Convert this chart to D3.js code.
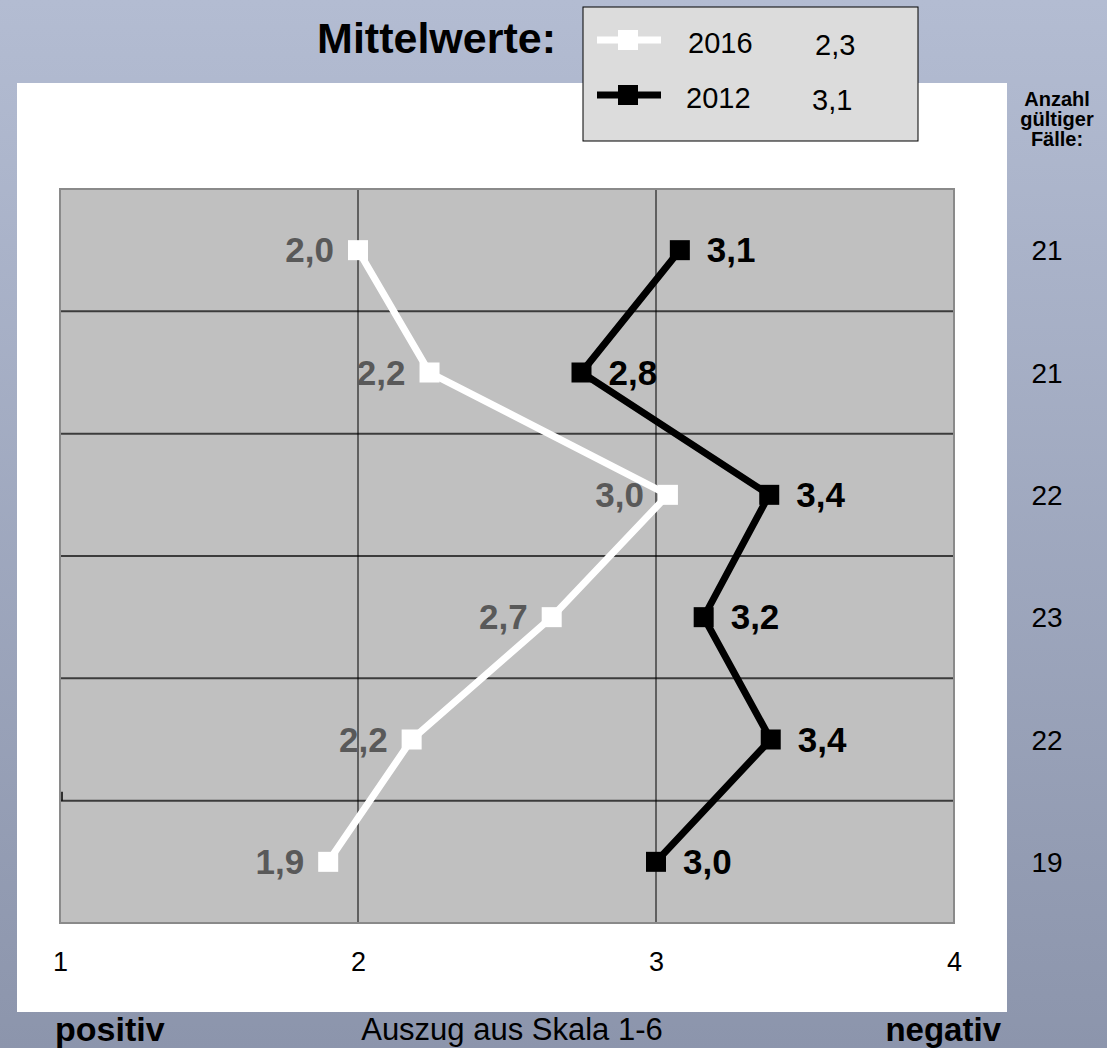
<!DOCTYPE html>
<html>
<head>
<meta charset="utf-8">
<script src="https://cdn.jsdelivr.net/npm/d3@7"></script>
<style>
  body { margin: 0; }
  svg { display: block; font-family: Arial, "Liberation Sans", sans-serif; }
</style>
</head>
<body>
<script>
// Werte
var rows = ["r1", "r2", "r3", "r4", "r5", "r6"];
var werte2016 = [2.0, 2.24, 3.04, 2.65, 2.18, 1.90];
var werte2012 = [3.08, 2.75, 3.38, 3.16, 3.385, 3.0];
var labels2016 = ["2,0", "2,2", "3,0", "2,7", "2,2", "1,9"];
var labels2012 = ["3,1", "2,8", "3,4", "3,2", "3,4", "3,0"];
var faelle = ["21", "21", "22", "23", "22", "19"];
var xTicks = [1, 2, 3, 4];
var serien = [
  { name: "2016", mittel: "2,3", color: "#ffffff", werte: werte2016, labels: labels2016, labelColor: "#595959" },
  { name: "2012", mittel: "3,1", color: "#000000", werte: werte2012, labels: labels2012, labelColor: "#000000" }
];

var W = 1107, H = 1048;
var svg = d3.select("body").append("svg").attr("width", W).attr("height", H);

var defs = svg.append("defs");
var grad = defs.append("linearGradient").attr("id", "bg").attr("x1", 0).attr("y1", 0).attr("x2", 0).attr("y2", 1);
grad.append("stop").attr("offset", "0%").attr("stop-color", "#b3bcd2");
grad.append("stop").attr("offset", "100%").attr("stop-color", "#8c95ac");
svg.append("rect").attr("width", W).attr("height", H).attr("fill", "url(#bg)");

// weisse Flaeche
svg.append("rect").attr("x", 17).attr("y", 83).attr("width", 990).attr("height", 929).attr("fill", "#fff");

var pLeft = 60, pRight = 954, pTop = 189, pBottom = 923;
var x = d3.scaleLinear().domain([1, 4]).range([pLeft, pRight]);
var y = d3.scaleBand().domain(rows).range([pTop, pBottom]);
var cy = function (i) { return y(rows[i]) + y.bandwidth() / 2; };

// Plotflaeche
svg.append("rect").attr("x", pLeft).attr("y", pTop).attr("width", pRight - pLeft).attr("height", pBottom - pTop)
  .attr("fill", "#c0c0c0");

// horizontale Linien
svg.append("g").selectAll("line").data(rows.slice(1)).join("line")
  .attr("x1", pLeft).attr("x2", pRight)
  .attr("y1", d => y(d)).attr("y2", d => y(d))
  .attr("stroke", "#3c3c3c").attr("stroke-width", 2);
// kleiner Rest an der letzten Linie
svg.append("line").attr("x1", pLeft + 2).attr("x2", pLeft + 2)
  .attr("y1", y(rows[5]) - 9).attr("y2", y(rows[5])).attr("stroke", "#000").attr("stroke-width", 1.5);

// vertikale Linien
svg.append("g").selectAll("line").data([2, 3]).join("line")
  .attr("x1", d => x(d)).attr("x2", d => x(d))
  .attr("y1", pTop).attr("y2", pBottom)
  .attr("stroke", "#000").attr("stroke-width", 1);

svg.append("rect").attr("x", pLeft).attr("y", pTop).attr("width", pRight - pLeft).attr("height", pBottom - pTop)
  .attr("fill", "none").attr("stroke", "#8a8a8a").attr("stroke-width", 2);

// x-Achse
var xAxis = svg.append("g").attr("transform", "translate(0," + 971 + ")")
  .call(d3.axisBottom(x).tickValues(xTicks).tickSize(0).tickPadding(0).tickFormat(d3.format("d")));
xAxis.select(".domain").remove();
xAxis.attr("font-size", null).attr("font-family", null);
xAxis.selectAll("text").attr("font-size", 27).attr("fill", "#000").attr("dy", "0");

// Linien und Punkte
var ms = 20;
var line = d3.line().x(d => d[0]).y(d => d[1]);
serien.forEach(function (s) {
  var pts = s.werte.map((v, i) => [x(v), cy(i)]);
  svg.append("path").attr("d", line(pts)).attr("fill", "none")
    .attr("stroke", s.color).attr("stroke-width", 7).attr("stroke-linejoin", "miter");
  svg.append("g").selectAll("rect").data(pts).join("rect")
    .attr("x", d => d[0] - ms / 2).attr("y", d => d[1] - ms / 2)
    .attr("width", ms).attr("height", ms).attr("fill", s.color);
  var is2016 = s.name === "2016";
  svg.append("g").selectAll("text").data(pts).join("text")
    .attr("x", d => is2016 ? d[0] - 24 : d[0] + 27)
    .attr("y", d => d[1] + 12)
    .attr("text-anchor", is2016 ? "end" : "start")
    .attr("font-size", 35).attr("font-weight", "bold")
    .attr("fill", s.labelColor)
    .text((d, i) => s.labels[i]);
});

// Anzahl gueltiger Faelle
var rc = svg.append("g").attr("font-weight", "bold").attr("font-size", 20).attr("text-anchor", "middle");
["Anzahl", "gültiger", "Fälle:"].forEach(function (t, i) {
  rc.append("text").attr("x", 1057).attr("y", 106 + i * 20).text(t);
});
svg.append("g").selectAll("text").data(faelle).join("text")
  .attr("x", 1047).attr("y", (d, i) => cy(i) + 10)
  .attr("text-anchor", "middle").attr("font-size", 28).attr("fill", "#000")
  .text(d => d);

// Titel und Legende
svg.append("text").attr("x", 556).attr("y", 53).attr("text-anchor", "end")
  .attr("font-size", 43).attr("font-weight", "bold").text("Mittelwerte:");

svg.append("rect").attr("x", 583).attr("y", 7).attr("width", 335).attr("height", 134)
  .attr("fill", "#dcdcdc").attr("stroke", "#000").attr("stroke-width", 1);
serien.forEach(function (s, i) {
  var ly = 40 + i * 55;
  svg.append("line").attr("x1", 597).attr("x2", 661).attr("y1", ly).attr("y2", ly)
    .attr("stroke", s.color).attr("stroke-width", 7);
  svg.append("rect").attr("x", 618).attr("y", ly - 10).attr("width", 20).attr("height", 20).attr("fill", s.color);
  svg.append("text").attr("x", 688 - i * 2).attr("y", ly + 13).attr("font-size", 29).text(s.name);
  svg.append("text").attr("x", 815 - i * 3).attr("y", ly + 15).attr("font-size", 29).text(s.mittel);
});

// Beschriftung unten
svg.append("text").attr("x", 55).attr("y", 1041).attr("font-size", 34).attr("font-weight", "bold").text("positiv");
svg.append("text").attr("x", 512).attr("y", 1040).attr("text-anchor", "middle").attr("font-size", 31).text("Auszug aus Skala 1-6");
svg.append("text").attr("x", 1001).attr("y", 1041).attr("text-anchor", "end").attr("font-size", 33).attr("font-weight", "bold").text("negativ");
</script>
</body>
</html>
